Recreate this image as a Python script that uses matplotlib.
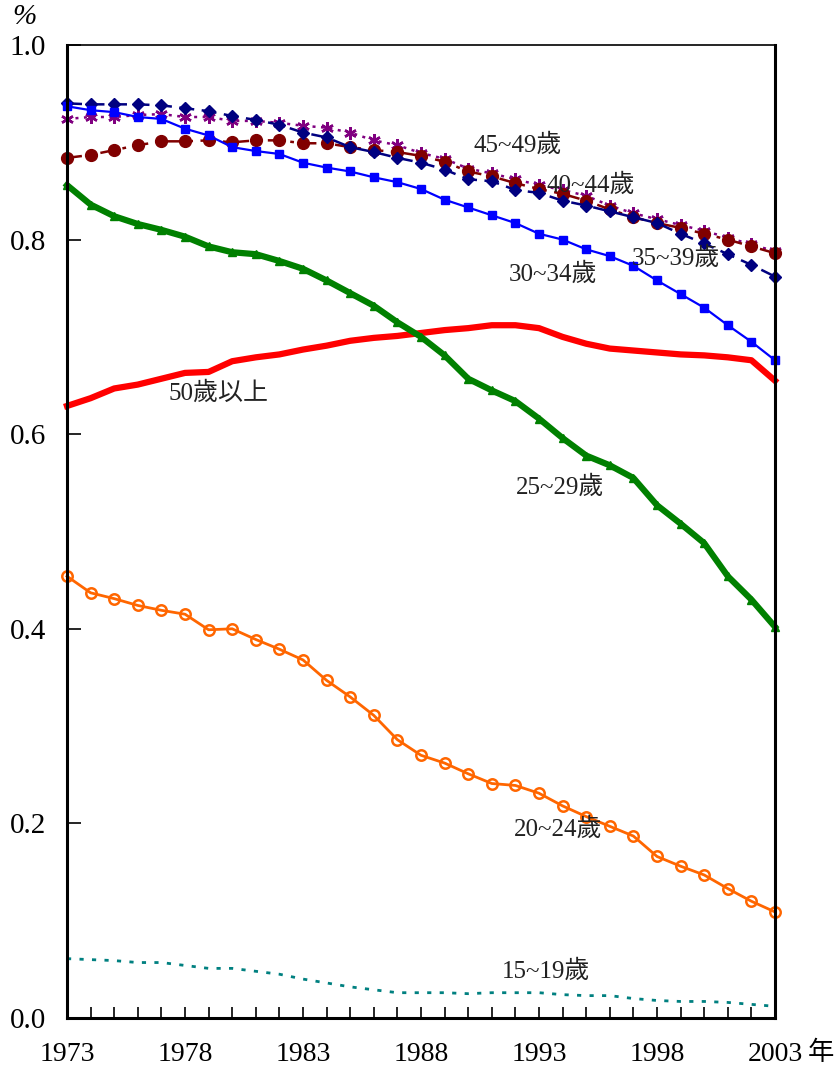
import matplotlib
matplotlib.use("Agg")
import matplotlib.pyplot as plt

years = [1973, 1974, 1975, 1976, 1977, 1978, 1979, 1980, 1981, 1982, 1983, 1984, 1985, 1986, 1987, 1988,
         1989, 1990, 1991, 1992, 1993, 1994, 1995, 1996, 1997, 1998, 1999, 2000, 2001, 2002, 2003]

age_15_19 = [0.061, 0.060, 0.059, 0.057, 0.057, 0.054, 0.051, 0.051, 0.048, 0.045, 0.040, 0.036, 0.032, 0.029, 0.026, 0.026,
             0.026, 0.025, 0.026, 0.026, 0.026, 0.024, 0.023, 0.023, 0.020, 0.018, 0.017, 0.017, 0.016, 0.014, 0.012]
age_20_24 = [0.454, 0.437, 0.431, 0.424, 0.419, 0.415, 0.399, 0.400, 0.389, 0.379, 0.368, 0.347, 0.330, 0.311, 0.286, 0.270,
             0.262, 0.251, 0.241, 0.239, 0.231, 0.218, 0.207, 0.197, 0.187, 0.166, 0.156, 0.147, 0.133, 0.120, 0.109]
age_25_29 = [0.856, 0.836, 0.824, 0.816, 0.810, 0.803, 0.793, 0.787, 0.785, 0.778, 0.770, 0.758, 0.745, 0.732, 0.715, 0.700,
             0.681, 0.657, 0.645, 0.634, 0.616, 0.596, 0.578, 0.568, 0.555, 0.527, 0.508, 0.488, 0.454, 0.430, 0.402]
age_30_34 = [0.937, 0.933, 0.931, 0.926, 0.924, 0.914, 0.907, 0.895, 0.891, 0.888, 0.879, 0.874, 0.870, 0.864, 0.859, 0.852,
             0.841, 0.833, 0.825, 0.817, 0.806, 0.800, 0.790, 0.783, 0.773, 0.758, 0.744, 0.730, 0.712, 0.695, 0.676]
age_35_39 = [0.940, 0.939, 0.939, 0.939, 0.938, 0.935, 0.932, 0.927, 0.923, 0.918, 0.910, 0.905, 0.895, 0.890, 0.884, 0.879,
             0.872, 0.862, 0.860, 0.851, 0.848, 0.840, 0.835, 0.829, 0.823, 0.817, 0.806, 0.796, 0.785, 0.774, 0.762]
age_40_44 = [0.884, 0.887, 0.892, 0.897, 0.901, 0.901, 0.902, 0.900, 0.902, 0.902, 0.899, 0.899, 0.895, 0.892, 0.890, 0.886,
             0.880, 0.870, 0.865, 0.858, 0.852, 0.847, 0.840, 0.831, 0.823, 0.817, 0.812, 0.806, 0.800, 0.793, 0.786]
age_45_49 = [0.924, 0.926, 0.926, 0.928, 0.929, 0.926, 0.926, 0.922, 0.922, 0.920, 0.917, 0.915, 0.910, 0.902, 0.897, 0.889,
             0.883, 0.873, 0.868, 0.862, 0.856, 0.851, 0.845, 0.835, 0.827, 0.821, 0.815, 0.809, 0.802, 0.795, 0.788]
age_50_up = [0.629, 0.637, 0.647, 0.651, 0.657, 0.663, 0.664, 0.675, 0.679, 0.682, 0.687, 0.691, 0.696, 0.699, 0.701, 0.704,
             0.707, 0.709, 0.712, 0.712, 0.709, 0.700, 0.693, 0.688, 0.686, 0.684, 0.682, 0.681, 0.679, 0.676, 0.655]

series_labels = ["15~19歲", "20~24歲", "25~29歲", "30~34歲", "35~39歲", "40~44歲", "45~49歲", "50歲以上"]
x_tick_years = [1973, 1978, 1983, 1988, 1993, 1998, 2003]
y_ticks = [0.0, 0.2, 0.4, 0.6, 0.8, 1.0]

SERIF = ["Liberation Serif", "Noto Sans CJK TC", "DejaVu Sans"]

fig = plt.figure(figsize=(8.4, 10.74), dpi=100)
ax = fig.add_axes([67 / 840, 1 - 1018 / 1074, (775 - 67) / 840, (1018 - 45) / 1074])

# draw in reverse order so earlier series sit on top
ax.plot(years, age_50_up, color="#FF0000", lw=4.5, solid_joinstyle="round", zorder=2, clip_on=False)
ax.plot(years, age_45_49, color="#800080", lw=1.8, ls=(0, (1.2, 2.2)), marker=(6, 2, 0), ms=9, mew=1.8,
        mec="#800080", zorder=3, clip_on=False)
ax.plot(years, age_40_44, color="#800000", lw=1.8, ls=(0, (6, 3, 1.5, 3)), marker="o", ms=8.5,
        mfc="#800000", mec="#800000", zorder=4, clip_on=False)
ax.plot(years, age_35_39, color="#000080", lw=1.8, ls=(0, (6, 3)), marker="D", ms=6.5,
        mfc="#000080", mec="#000080", zorder=5, clip_on=False)
ax.plot(years, age_30_34, color="#0000FF", lw=1.6, marker="s", ms=5.5, mfc="#0000FF", mec="#0000FF",
        zorder=6, clip_on=False)
ax.plot(years, age_25_29, color="#008000", lw=4.5, marker="^", ms=6, mfc="#008000", mec="#008000",
        zorder=7, clip_on=False)
ax.plot(years, age_20_24, color="#FF6600", lw=2, marker="o", ms=7.5, mfc="none", mec="#FF6600", mew=1.8,
        zorder=8, clip_on=False)
ax.plot(years, age_15_19, color="#008080", lw=2, ls=(0, (1.5, 3)), zorder=9, clip_on=False)

label_pos = [(1993.3, 0.048), (1993.8, 0.194), (1993.9, 0.546), (1993.6, 0.765),
             (1998.8, 0.781), (1995.2, 0.856), (1992.1, 0.897), (1979.4, 0.642)]
for lab, (lx, ly) in zip(series_labels, label_pos):
    ax.text(lx, ly, lab, ha="center", va="center", fontsize=18, family=SERIF, color="#222222", zorder=20)

ax.set_xlim(1973, 2003)
ax.set_ylim(0, 1.0)
ax.set_xticks(years)
ax.set_xticklabels([str(y) if y in x_tick_years else "" for y in years], family=SERIF, fontsize=20)
ax.set_yticks(y_ticks)
ax.set_yticklabels([f"{v:.1f}" for v in y_ticks], family=SERIF, fontsize=21)
ax.tick_params(axis="x", direction="in", length=8, width=1.2, pad=17, colors="black")
ax.tick_params(axis="y", direction="in", length=10, width=1.2, pad=15, colors="black")

for side in ["left", "bottom", "right"]:
    ax.spines[side].set_linewidth(2.2)
ax.spines["top"].set_linewidth(1.2)
for s in ax.spines.values():
    s.set_zorder(25)

fig.text(24 / 840, 1 - 17 / 1074, "%", ha="center", va="center", fontsize=21, family=SERIF, style="italic")
fig.text(821 / 840, 1 - 1053 / 1074, "年", ha="center", va="center", fontsize=19,
         family=["Noto Sans CJK TC", "DejaVu Sans"])

fig.savefig("out.png", dpi=100)
